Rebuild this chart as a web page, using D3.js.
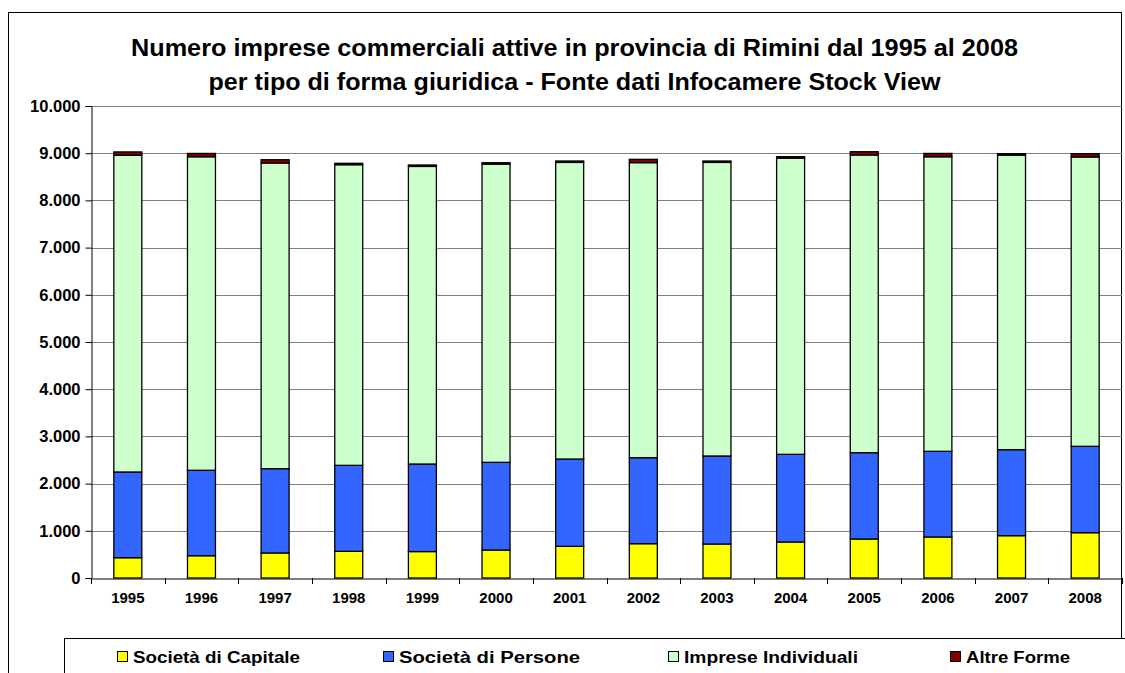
<!DOCTYPE html>
<html><head><meta charset="utf-8">
<script src="https://cdn.jsdelivr.net/npm/d3@7"></script>
<style>body{margin:0;background:#fff}svg{display:block}text{font-family:"Liberation Sans",Arial,sans-serif;font-weight:bold}</style>
</head><body>
<svg id="c" width="1125" height="673"></svg>
<script>
const years = ["1995","1996","1997","1998","1999","2000","2001","2002","2003","2004","2005","2006","2007","2008"];
const capitale    = [430, 472, 530, 565, 560, 593, 671, 727, 720, 763, 826, 869, 897, 960];
const persone     = [1816,1810,1786,1822,1855,1858,1850,1822,1865,1857,1829,1815,1822,1830];
const individuali = [6711,6643,6476,6369,6305,6318,6284,6251,6220,6276,6307,6241,6241,6130];
const altre       = [70, 70, 70, 30, 30, 30, 30, 70, 30, 30, 70, 70, 30, 70];
const seriesNames = ["Società di Capitale","Società di Persone","Imprese Individuali","Altre Forme"];
const colors = ["#FFFF00","#3366FF","#CCFFCC","#800000"];
const yTicks = [0,1000,2000,3000,4000,5000,6000,7000,8000,9000,10000];
const titleLines = ["Numero imprese commerciali attive in provincia di Rimini dal 1995 al 2008","per tipo di forma giuridica - Fonte dati Infocamere Stock View"];

const svg = d3.select("#c");
const M = {left:91, right:1122, top:106, bottom:578};
const locale = d3.formatLocale({decimal:",", thousands:".", grouping:[3], currency:["€",""]});
const fmt = locale.format(",d");

// outer frame
svg.append("rect").attr("x",8.5).attr("y",12.5).attr("width",1113).attr("height",700)
  .attr("fill","#fff").attr("stroke","#000").attr("stroke-width",1);

const x = d3.scaleBand().domain(years).range([M.left,M.right]).paddingInner(0.62).paddingOuter(0.31);
const y = d3.scaleLinear().domain([0,10000]).range([M.bottom,M.top]);

// gridlines
svg.append("g").selectAll("line").data(yTicks.filter(d=>d>0)).join("line")
  .attr("x1",M.left).attr("x2",M.right).attr("y1",d=>Math.round(y(d))+0.5).attr("y2",d=>Math.round(y(d))+0.5)
  .attr("stroke","#808080").attr("stroke-width",1);

// stacked data
const table = years.map((yr,i)=>({year:yr, s0:capitale[i], s1:persone[i], s2:individuali[i], s3:altre[i]}));
const stack = d3.stack().keys(["s0","s1","s2","s3"])(table);
svg.append("g").selectAll("g").data(stack).join("g")
  .attr("fill",(d,i)=>colors[i])
  .selectAll("rect").data(d=>d).join("rect")
  .attr("x",d=>x(d.data.year)).attr("width",x.bandwidth())
  .attr("y",d=>y(d[1])).attr("height",d=>y(d[0])-y(d[1]))
  .attr("stroke","#000").attr("stroke-width",1.3);

// y axis
const ya = svg.append("g").attr("transform",`translate(${M.left+0.5},0)`)
  .call(d3.axisLeft(y).tickValues(yTicks).tickFormat(fmt).tickSize(6).tickPadding(5));
ya.select(".domain").attr("stroke","#000");
ya.selectAll(".tick line").attr("stroke","#000");
ya.selectAll("text").attr("font-size",16.5).attr("fill","#000").style("font-family","'Liberation Sans',Arial,sans-serif").style("font-weight","bold");

// x axis
const xa = svg.append("g").attr("transform",`translate(0,${M.bottom+0.5})`)
  .call(d3.axisBottom(x).tickSize(0).tickPadding(14));
xa.select(".domain").attr("stroke","#000");
xa.selectAll("text").attr("font-size",15).attr("fill","#000").style("font-family","'Liberation Sans',Arial,sans-serif").style("font-weight","bold");
// x tick marks at band boundaries
svg.append("g").selectAll("line").data(d3.range(years.length+1)).join("line")
  .attr("x1",d=>Math.round(M.left+d*(M.right-M.left)/years.length)+0.5)
  .attr("x2",d=>Math.round(M.left+d*(M.right-M.left)/years.length)+0.5)
  .attr("y1",M.bottom).attr("y2",M.bottom+6).attr("stroke","#000");

// title
const titleW = [887, 732];
svg.append("g").selectAll("text").data(titleLines).join("text")
  .attr("x",574.5).attr("y",(d,i)=>56+i*34).attr("text-anchor","middle")
  .attr("font-size",23).attr("fill","#000")
  .attr("textLength",(d,i)=>titleW[i]).attr("lengthAdjust","spacingAndGlyphs").text(d=>d);

// legend
svg.append("rect").attr("x",64.5).attr("y",638.5).attr("width",1070).attr("height",60)
  .attr("fill","#fff").attr("stroke","#000");
const legX = [117,383,668,950];
const legW = [167,181,174,104];
const lg = svg.append("g").selectAll("g").data(seriesNames).join("g")
  .attr("transform",(d,i)=>`translate(${legX[i]},651)`);
lg.append("rect").attr("x",0.5).attr("y",0.5).attr("width",10).attr("height",10)
  .attr("fill",(d,i)=>colors[i]).attr("stroke","#000");
lg.append("text").attr("x",16).attr("y",11.5).attr("font-size",16).attr("fill","#000")
  .attr("textLength",(d,i)=>legW[i]).attr("lengthAdjust","spacingAndGlyphs").text(d=>d);
</script>
</body></html>
